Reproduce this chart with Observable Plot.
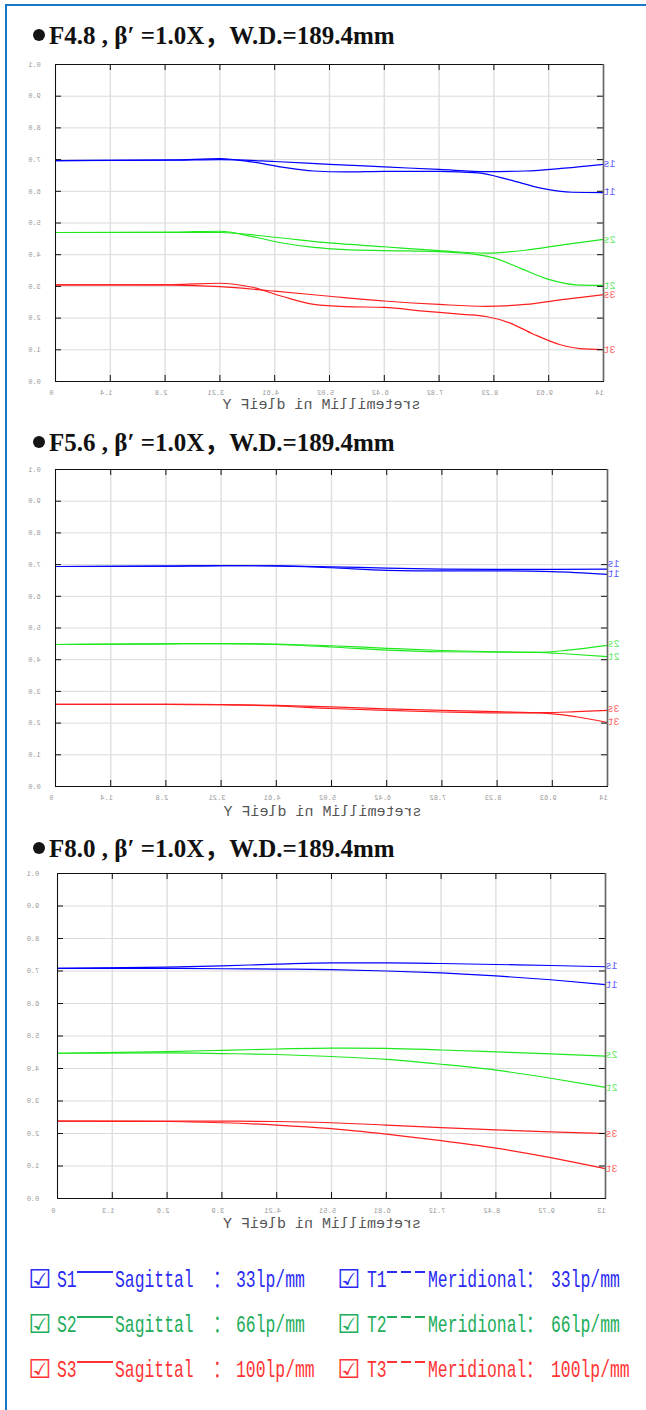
<!DOCTYPE html>
<html><head><meta charset="utf-8">
<script src="https://cdn.jsdelivr.net/npm/d3@7"></script>
<script src="https://cdn.jsdelivr.net/npm/@observablehq/plot@0.6"></script>
<style>
html,body{margin:0;padding:0;background:#fff;}
#page{position:relative;width:646px;height:1410px;overflow:hidden;background:#fff;}
#page svg{position:absolute;}
.title{position:absolute;left:49px;font-family:"Liberation Serif","Noto Sans CJK SC",serif;font-weight:bold;font-size:25px;line-height:25px;color:#111;white-space:pre;}
.dot{position:absolute;left:33px;width:12px;height:12px;border-radius:50%;background:#151515;}
.lg{position:absolute;font-family:"Liberation Mono","Noto Sans CJK SC",monospace;font-size:24px;line-height:24px;white-space:pre;transform:scaleX(.683);transform-origin:0 0;}
.box{position:absolute;font-family:"DejaVu Sans",sans-serif;font-size:26px;line-height:26px;}
.bar{position:absolute;height:2px;}
</style></head>
<body><div id="page"></div>
<script>
// ---------- data ----------
const titles = ["F4.8 , β′ =1.0X，W.D.=189.4mm", "F5.6 , β′ =1.0X，W.D.=189.4mm", "F8.0 , β′ =1.0X，W.D.=189.4mm"];
const axisTitle = "Y Field in Millimeters";
const yTicks = [0, 0.1, 0.2, 0.3, 0.4, 0.5, 0.6, 0.7, 0.8, 0.9, 1.0];
const yTickLabels = ["0.0","0.1","0.2","0.3","0.4","0.5","0.6","0.7","0.8","0.9","1.0"];
const xTicks14 = [0, 1.4, 2.8, 4.2, 5.6, 7.0, 8.4, 9.8, 11.2, 12.6, 14];
const xTickLabels14 = ["0","4.1","8.2","12.3","16.4","20.5","24.6","28.7","32.8","36.9","41"];
const xTicks13 = [0, 1.3, 2.6, 3.9, 5.2, 6.5, 7.8, 9.1, 10.4, 11.7, 13];
const xTickLabels13 = ["0","3.1","6.2","9.3","12.4","15.5","18.6","21.7","24.8","27.9","31"];
const curveLabels = ["s1","t1","s2","t2","s3","t3"];

// F4.8
const f48_S1 = [[0,.697],[3.0,.698],[4.2,.700],[5.6,.694],[7.0,.685],[8.4,.677],[9.8,.669],[11.0,.662],[12.0,.664],[13.0,.673],[14,.685]];
const f48_T1 = [[0,.697],[3.0,.699],[4.2,.703],[5.0,.693],[5.8,.676],[6.6,.664],[7.4,.661],[8.4,.663],[9.8,.663],[10.8,.658],[11.6,.636],[12.4,.610],[13.2,.597],[14,.596]];
const f48_S2 = [[0,.470],[3.0,.470],[4.2,.470],[5.6,.455],[7.0,.437],[8.4,.425],[9.8,.413],[11.0,.405],[12.0,.414],[13.0,.432],[14,.448]];
const f48_T2 = [[0,.470],[3.0,.471],[4.2,.474],[5.0,.458],[5.8,.437],[6.6,.423],[7.4,.416],[8.4,.413],[9.8,.410],[10.6,.403],[11.2,.390],[11.9,.356],[12.6,.322],[13.3,.305],[14,.303]];
const f48_S3 = [[0,.305],[3.0,.304],[4.2,.299],[5.6,.285],[7.0,.269],[8.4,.254],[9.8,.243],[11.0,.237],[12.0,.243],[13.0,.259],[14,.274]];
const f48_T3 = [[0,.305],[3.0,.306],[4.2,.310],[5.0,.298],[5.8,.268],[6.6,.243],[7.4,.236],[8.4,.234],[9.4,.222],[10.4,.212],[11.0,.205],[11.6,.185],[12.2,.150],[12.9,.116],[13.4,.104],[14,.101]];
// F5.6
const f56_S1 = [[0,.694],[2.8,.695],[4.2,.697],[5.6,.696],[7.0,.693],[8.4,.689],[9.8,.686],[11.2,.685],[12.6,.685],[14,.686]];
const f56_T1 = [[0,.694],[2.8,.695],[4.2,.697],[5.6,.696],[7.0,.690],[8.4,.682],[9.8,.680],[11.2,.680],[12.6,.678],[14,.669]];
const f56_S2 = [[0,.448],[2.8,.450],[4.2,.451],[5.6,.449],[7.0,.444],[8.4,.436],[9.8,.429],[11.2,.425],[12.2,.423],[13.0,.430],[14,.445]];
const f56_T2 = [[0,.448],[2.8,.450],[4.2,.451],[5.6,.448],[7.0,.440],[8.4,.430],[9.8,.425],[11.2,.424],[12.2,.423],[13.0,.418],[14,.410]];
const f56_S3 = [[0,.259],[2.8,.259],[4.2,.258],[5.6,.256],[7.0,.251],[8.4,.245],[9.8,.240],[11.2,.236],[12.4,.233],[13.2,.236],[14,.240]];
const f56_T3 = [[0,.259],[2.8,.259],[4.2,.258],[5.6,.254],[7.0,.246],[8.4,.240],[9.8,.235],[11.2,.232],[12.2,.232],[13.2,.220],[14,.202]];
// F8.0
const f80_S1 = [[0,.708],[2.6,.712],[3.9,.716],[5.2,.721],[6.5,.725],[7.8,.725],[9.1,.723],[10.4,.720],[11.7,.717],[13,.713]];
const f80_T1 = [[0,.708],[2.6,.708],[3.9,.707],[5.2,.706],[6.5,.704],[7.8,.700],[9.1,.694],[10.4,.685],[11.7,.673],[13,.658]];
const f80_S2 = [[0,.447],[2.6,.452],[3.9,.456],[5.2,.460],[6.5,.463],[7.8,.462],[9.1,.457],[10.4,.451],[11.7,.445],[13,.438]];
const f80_T2 = [[0,.447],[2.6,.448],[3.9,.446],[5.2,.443],[6.5,.437],[7.8,.428],[9.1,.413],[10.4,.395],[11.7,.370],[13,.342]];
const f80_S3 = [[0,.238],[2.6,.238],[3.9,.238],[5.2,.237],[6.5,.233],[7.8,.226],[9.1,.218],[10.4,.211],[11.7,.205],[13,.200]];
const f80_T3 = [[0,.238],[2.6,.237],[3.9,.233],[5.2,.226],[6.5,.215],[7.8,.198],[9.1,.178],[10.4,.155],[11.7,.126],[13,.092]];

// legend
const legendS = ["S1","S2","S3"];
const legendT = ["T1","T2","T3"];
const legendFreq = ["33lp/mm","66lp/mm","100lp/mm"];
const legendColors = ["#2b2bf2","#22ad5a","#ff3434"];

const lineColors = ["#0000ff","#0000ff","#1fe81f","#1fe81f","#ff1f1f","#ff1f1f"];
const labelColors = ["#6060ff","#6060ff","#66e866","#66e866","#ff6464","#ff6464"];

// ---------- page ----------
const page = document.getElementById("page");
function el(tag, cls, style, text) {
  const e = document.createElement(tag);
  if (cls) e.className = cls;
  Object.assign(e.style, style);
  if (text != null) e.textContent = text;
  page.appendChild(e);
  return e;
}
// border
el("div", null, {position:"absolute", left:"5px", top:"4px", width:"2px", height:"1406px", background:"#1a76c9"});
el("div", null, {position:"absolute", left:"5px", top:"4px", width:"641px", height:"2px", background:"#1a76c9"});

// per-glyph mirroring of the chart texts (the reference shows mirrored glyphs)
function mirrorGlyphs(svg) {
  const NS = "http://www.w3.org/2000/svg";
  svg.querySelectorAll("text").forEach(t => {
    const s = t.textContent;
    const n = t.getNumberOfChars();
    if (!n) return;
    const g = document.createElementNS(NS, "g");
    const tr = t.getAttribute("transform");
    if (tr) g.setAttribute("transform", tr);
    for (let i = 0; i < n; i++) {
      const e = t.getExtentOfChar(i);
      const cx = e.x + e.width / 2;
      const c = document.createElementNS(NS, "text");
      for (const a of Array.from(t.attributes)) {
        if (a.name !== "transform" && a.name !== "x" && a.name !== "text-anchor") c.setAttribute(a.name, a.value);
      }
      c.setAttribute("x", cx);
      c.setAttribute("text-anchor", "middle");
      c.setAttribute("transform", `translate(${2 * cx},0) scale(-1,1)`);
      c.textContent = s[i];
      g.appendChild(c);
    }
    t.replaceWith(g);
  });
}

function drawChart(cfg) {
  const {top, width, height, mt, mr, mb, ml, xmax, xTicks, xLabels, series, labelDy, yLabelDx, xLabelDy, titleDy, titleDx} = cfg;
  const pw = width - ml - mr, ph = height - mt - mb;
  const yl = yTicks.map((v, i) => ({v, label: yTickLabels[i]}));
  const xl = xTicks.map((v, i) => ({v, label: xLabels[i]}));
  const marks = [
    Plot.ruleY(yTicks, {y: d => d, stroke: "#dadada", strokeWidth: 1}),
    Plot.ruleX(xTicks, {x: d => d, stroke: "#e0e0e0", strokeWidth: 1.5})
  ];
  series.forEach((s, i) => {
    marks.push(Plot.line(s, {x: d => d[0], y: d => d[1], stroke: lineColors[i], strokeWidth: 1.2, curve: "monotone-x"}));
  });
  marks.push(
    Plot.ruleY(yTicks, {y: d => d, stroke: "#111", insetRight: pw - 6}),
    Plot.ruleY(yTicks, {y: d => d, stroke: "#111", insetLeft: pw - 6}),
    Plot.ruleX(xTicks, {x: d => d, stroke: "#111", insetBottom: ph - 6}),
    Plot.ruleX(xTicks, {x: d => d, stroke: "#111", insetTop: ph - 6}),
    Plot.frame({stroke: "#111"}),
    Plot.ruleX([xmax], {stroke: "#666", strokeWidth: 1.6}),
    Plot.text(yl, {x: 0, y: "v", text: "label", dx: yLabelDx, fontSize: 7, fill: "#9a9a9a", textAnchor: "middle"}),
    Plot.text(xl, {x: "v", y: 0, text: "label", dy: xLabelDy, dx: -4, fontSize: 7, fill: "#9a9a9a"}),
    Plot.text([axisTitle], {frameAnchor: "bottom", text: d => d, dy: titleDy, dx: titleDx, fontSize: 15, fill: "#555"})
  );
  series.forEach((s, i) => {
    const last = s[s.length - 1];
    marks.push(Plot.text([last], {x: d => d[0], y: d => d[1], text: () => curveLabels[i], fill: labelColors[i], dx: 6, dy: labelDy[i], fontSize: 10}));
  });
  const svg = Plot.plot({
    width, height, marginTop: mt, marginRight: mr, marginBottom: mb, marginLeft: ml,
    x: {domain: [0, xmax], axis: null},
    y: {domain: [0, 1], axis: null},
    style: {fontFamily: "'Liberation Mono', monospace", background: "transparent"},
    marks
  });
  svg.style.left = "0px";
  svg.style.top = top + "px";
  page.appendChild(svg);
  mirrorGlyphs(svg);
}

drawChart({top: 50, width: 646, height: 380, mt: 14, mr: 43, mb: 49, ml: 55, xmax: 14,
  xTicks: xTicks14, xLabels: xTickLabels14, series: [f48_S1, f48_T1, f48_S2, f48_T2, f48_S3, f48_T3],
  labelDy: [-1, -1, 0, 0, 0, 0], yLabelDx: -21, xLabelDy: 11, titleDy: 27, titleDx: -8});
drawChart({top: 455, width: 646, height: 380, mt: 14, mr: 39, mb: 49, ml: 55, xmax: 14,
  xTicks: xTicks14, xLabels: xTickLabels14, series: [f56_S1, f56_T1, f56_S2, f56_T2, f56_S3, f56_T3],
  labelDy: [-5, -1, -2, 0, -2, -1], yLabelDx: -21, xLabelDy: 11, titleDy: 29, titleDx: -9});
drawChart({top: 860, width: 646, height: 380, mt: 13, mr: 41, mb: 42, ml: 57, xmax: 13,
  xTicks: xTicks13, xLabels: xTickLabels13, series: [f80_S1, f80_T1, f80_S2, f80_T2, f80_S3, f80_T3],
  labelDy: [-1, 0, -1, 0, 0, 0], yLabelDx: -24.5, xLabelDy: 12, titleDy: 29, titleDx: -9.5});

// titles
const titleBaselines = [44, 451, 857];
titles.forEach((t, i) => {
  el("div", "dot", {top: (titleBaselines[i] - 15) + "px"});
  el("div", "title", {top: (titleBaselines[i] - 21) + "px"}, t);
});

// legend
legendS.forEach((s, i) => {
  const c = 1280 + 45 * i;
  const col = legendColors[i];
  el("div", "box", {left: "28px", top: (c - 14) + "px", color: col}, "☑");
  el("div", "lg", {left: "57px", top: (c - 11) + "px", color: col}, s);
  el("div", "bar", {left: "77px", top: (c - 9) + "px", width: "36px", background: col});
  el("div", "lg", {left: "115px", top: (c - 11) + "px", color: col}, "Sagittal  ：");
  el("div", "lg", {left: "236px", top: (c - 11) + "px", color: col}, legendFreq[i]);
  el("div", "box", {left: "337px", top: (c - 14) + "px", color: col}, "☑");
  el("div", "lg", {left: "367px", top: (c - 11) + "px", color: col}, legendT[i]);
  [0, 1, 2].forEach(k => el("div", "bar", {left: (387 + 14 * k) + "px", top: (c - 9) + "px", width: "10px", background: col}));
  el("div", "lg", {left: "428px", top: (c - 11) + "px", color: col}, "Meridional：");
  el("div", "lg", {left: "551px", top: (c - 11) + "px", color: col}, legendFreq[i]);
});
</script></body></html>
